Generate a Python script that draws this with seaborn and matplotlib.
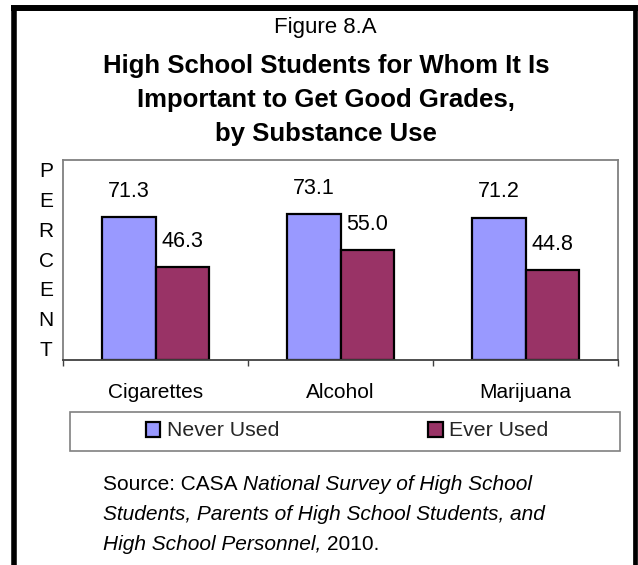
import matplotlib
matplotlib.use("Agg")
import matplotlib.pyplot as plt
import seaborn as sns
import pandas as pd
from matplotlib.lines import Line2D
from matplotlib.patches import Rectangle, Patch

# ---- data ----
categories = ["Cigarettes", "Alcohol", "Marijuana"]
series_names = ["Never Used", "Ever Used"]
never_used = [71.3, 73.1, 71.2]
ever_used = [46.3, 55.0, 44.8]
colors = ["#9999FF", "#993366"]

W, H, DPI = 638, 565, 100
sns.set_theme(style="white")
plt.rcParams['font.family'] = ['Liberation Sans', 'DejaVu Sans']

df = pd.DataFrame({
    "Substance": categories * 2,
    "Group": [series_names[0]] * len(categories) + [series_names[1]] * len(categories),
    "Percent": never_used + ever_used,
})

fig = plt.figure(figsize=(W / DPI, H / DPI), dpi=DPI)
fig.patch.set_facecolor("white")


def fx(px):
    return px / W


def fy(py):
    return 1 - py / H


ax = fig.add_axes([fx(63), fy(360), (618 - 63) / W, (360 - 160) / H])
palette = dict(zip(series_names, colors))
sns.barplot(data=df, x="Substance", y="Percent", hue="Group", order=categories,
            hue_order=series_names, palette=palette, width=0.573, edgecolor="black",
            linewidth=1.6, saturation=1, ax=ax, legend=False)

for cont in ax.containers:
    ax.bar_label(cont, fmt="%.1f", padding=11, fontsize=15.5, color="black")

ax.set_ylim(0, 100)
ax.set_xlim(-0.5, 2.5)
ax.set_yticks([])
ax.set_xlabel("")
ax.set_ylabel("")
for side in ["left", "top", "right"]:
    ax.spines[side].set_visible(True)
    ax.spines[side].set_color("#808080")
    ax.spines[side].set_linewidth(1.3)
ax.spines["bottom"].set_color("#404040")
ax.spines["bottom"].set_linewidth(1.3)

ax.set_xticks(range(len(categories)))
ax.set_xticklabels(categories)
ax.tick_params(axis="x", which="major", length=0, pad=16.5, labelsize=15, labelcolor="black")
ax.set_xticks([-0.5, 0.5, 1.5, 2.5], minor=True)
ax.tick_params(axis="x", which="minor", bottom=True, length=4.3, width=1.0,
               color="#404040", direction="out")

# vertical PERCENT label
for i, ch in enumerate("PERCENT"):
    fig.text(fx(46), fy(172 + i * 29.7), ch, ha="center", va="center", fontsize=15, color="black")

# titles
fig.text(fx(325), fy(27), "Figure 8.A", ha="center", va="center", fontsize=16, color="black")
title_lines = ["High School Students for Whom It Is",
               "Important to Get Good Grades,",
               "by Substance Use"]
for i, line in enumerate(title_lines):
    fig.text(fx(326), fy(66.5 + i * 34), line, ha="center", va="center", fontsize=18.5,
             fontweight="bold", color="black")

# legend
handles = [Patch(facecolor=c, edgecolor="black", linewidth=1.6) for c in colors]
fig.legend(handles, series_names, loc="center", bbox_to_anchor=(fx(347), fy(431)), ncol=2,
           frameon=False, fontsize=15.3, handlelength=0.7, handleheight=0.7,
           handletextpad=0.3, columnspacing=7.0, borderpad=0)
fig.add_artist(Rectangle((fx(70), fy(451)), (620 - 70) / W, (451 - 412) / H,
                         transform=fig.transFigure, fill=False, edgecolor="#808080", lw=1.2))

# source text
renderer = fig.canvas.get_renderer()
SRC_FS = 15
space_px = 0.278 * SRC_FS * DPI / 72


def put_line(pieces, x_px, y_px):
    x = x_px
    for txt, style in pieces:
        t = fig.text(fx(x), fy(y_px), txt, fontsize=SRC_FS, style=style, ha="left",
                     va="baseline", color="black")
        bb = t.get_window_extent(renderer=renderer)
        x += bb.width + space_px


put_line([("Source: CASA", "normal"), ("National Survey of High School", "italic")], 103, 490)
put_line([("Students, Parents of High School Students, and", "italic")], 103, 520)
put_line([("High School Personnel,", "italic"), ("2010.", "normal")], 103, 550)

# outer black frame (open at the bottom)
fig.add_artist(Line2D([fx(13.5), fx(13.5)], [fy(8), 0], transform=fig.transFigure,
                      color="black", lw=4.0, solid_capstyle="butt"))
fig.add_artist(Line2D([fx(11), fx(637.5)], [fy(8), fy(8)], transform=fig.transFigure,
                      color="black", lw=4.3, solid_capstyle="butt"))
fig.add_artist(Line2D([fx(635), fx(635)], [fy(8), 0], transform=fig.transFigure,
                      color="black", lw=3.4, solid_capstyle="butt"))

fig.savefig("out.png", dpi=DPI, facecolor="white")
